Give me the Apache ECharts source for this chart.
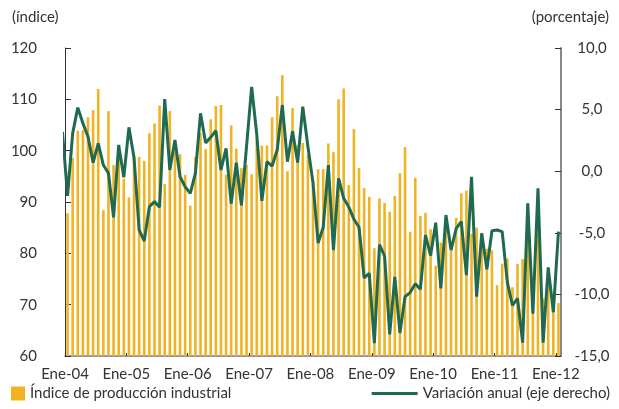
<!DOCTYPE html>
<html>
<head>
<meta charset="utf-8">
<script src="https://cdn.jsdelivr.net/npm/echarts@6/dist/echarts.min.js"></script>
<style>
  html, body { margin: 0; padding: 0; background: #fff; }
  #chart { width: 619px; height: 409px; }
</style>
</head>
<body>
<div id="chart"></div>
<script>
// enero 2004 .. enero 2012, mensual
var etiquetas_anio = ['Ene-04', 'Ene-05', 'Ene-06', 'Ene-07', 'Ene-08', 'Ene-09', 'Ene-10', 'Ene-11', 'Ene-12']

var indice = [
    87.8, 98.6, 103.9, 104.0, 106.5, 107.9, 112.0, 88.4, 107.7, 97.2, 99.8, 94.5,
    90.9, 99.0, 98.8, 98.0, 103.4, 105.3, 108.8, 93.5, 107.7, 99.7, 99.3, 95.3,
    89.3, 98.8, 103.4, 100.3, 106.1, 108.7, 108.9, 95.3, 104.9, 100.4, 96.6, 97.2,
    95.4, 102.4, 101.0, 101.0, 106.5, 110.6, 114.7, 96.0, 108.3, 101.1, 101.5, 99.2,
    94.2, 96.4, 96.4, 101.4, 99.7, 110.0, 112.1, 93.3, 104.2, 96.6, 92.7, 91.0,
    81.0, 90.7, 89.8, 88.1, 91.2, 95.6, 100.7, 84.2, 94.7, 87.3, 87.9, 84.7,
    77.6, 82.1, 86.7, 80.6, 86.9, 91.7, 92.2, 83.8, 85.0, 84.0, 80.9, 80.6,
    73.8, 78.0, 79.0, 73.4, 77.9, 78.9, 89.8, 74.1, 83.9, 71.2, 74.5, 71.4,
    70.3
]

// diciembre 2003, solo asoma en el borde izquierdo
var variacion_dic03 = 3.2

var variacion = [
    -2.0, 3.07, 5.16, 3.89, 2.80, 0.69, 2.26, 0.50, -0.17, -3.75, 2.13, -0.5,
    3.56, 1.1, -4.77, -5.67, -2.88, -2.47, -2.92, 5.85, 0.10, 2.53, -0.45, -1.26,
    -1.8, -0.17, 4.70, 2.3, 2.75, 3.29, 0.10, 1.86, -2.63, 0.70, -2.77, 2.0,
    6.85, 3.0, -2.4, 0.77, 0.42, 1.72, 5.37, 0.77, 3.24, 0.70, 5.24, 2.0,
    -0.95, -5.83, -4.55, 0.50, -6.40, -0.58, -2.20, -2.9, -3.9, -4.55, -8.65, -8.29,
    -13.95, -5.95, -6.9, -13.25, -8.58, -13.13, -10.18, -9.85, -9.13, -9.57, -5.18, -6.85,
    -4.18, -9.51, -3.56, -6.40, -4.65, -4.10, -8.43, -0.45, -10.18, -5.04, -7.97, -4.83,
    -4.77, -4.91, -9.0, -10.9, -10.32, -13.92, -2.61, -11.56, -1.39, -13.92, -7.80, -11.45,
    -4.91
]

var font = 'Lato, "Open Sans", sans-serif'
var texto = '#333'

var barras = []
for (var i = 0; i < indice.length; i++) {
    barras.push([i + 0.5, indice[i]])
}
var linea = [[-0.5, variacion_dic03]]
for (var j = 0; j < variacion.length; j++) {
    linea.push([j + 0.5, variacion[j]])
}

var option = {
    animation: false,
    textStyle: { fontFamily: font },
    title: [
        { text: '(índice)', left: 7, top: 5,
          textStyle: { fontFamily: font, fontSize: 15, fontWeight: 'normal', color: texto } },
        { text: '(porcentaje)', right: 5, top: 5,
          textStyle: { fontFamily: font, fontSize: 15, fontWeight: 'normal', color: texto } }
    ],
    legend: [
        {
            data: ['Índice de producción industrial'],
            left: 6, bottom: 3,
            icon: 'rect', itemWidth: 14, itemHeight: 14,
            textStyle: { fontFamily: font, fontSize: 15, color: texto }
        },
        {
            data: ['Variación anual (eje derecho)'],
            right: 4, bottom: 3,
            icon: 'rect', itemWidth: 46, itemHeight: 3,
            textStyle: { fontFamily: font, fontSize: 15, color: texto }
        }
    ],
    grid: { left: 65, right: 58, top: 48, bottom: 53, containLabel: false },
    xAxis: {
        type: 'value',
        min: 0, max: indice.length, interval: 12,
        splitLine: { show: false },
        axisLine: { show: true, onZero: false, lineStyle: { color: '#777', width: 1.5 } },
        axisTick: { show: true, inside: true, length: 3, lineStyle: { color: '#333' } },
        axisLabel: {
            margin: 11, fontSize: 15, color: texto, fontFamily: font,
            showMaxLabel: false,
            formatter: function (v) {
                return v % 12 === 0 ? etiquetas_anio[v / 12] : ''
            }
        }
    },
    yAxis: [
        {
            type: 'value', min: 60, max: 120, interval: 10,
            splitLine: { show: false },
            axisLine: { show: true, lineStyle: { color: '#333', width: 1 } },
            axisTick: { show: true, inside: true, length: 6, lineStyle: { color: '#333' } },
            axisLabel: { margin: 28, fontSize: 15, color: texto, fontFamily: font }
        },
        {
            type: 'value', min: -15, max: 10, interval: 5,
            position: 'right',
            splitLine: { show: false },
            axisLine: { show: true, lineStyle: { color: '#888', width: 2 } },
            axisTick: { show: true, inside: true, length: 6, lineStyle: { color: '#333' } },
            axisLabel: {
                margin: 31, align: 'center', fontSize: 15, color: texto, fontFamily: font,
                formatter: function (v) { return v.toFixed(1).replace('.', ',') }
            }
        }
    ],
    series: [
        {
            name: 'Índice de producción industrial',
            type: 'bar',
            yAxisIndex: 0,
            barWidth: 2.6,
            itemStyle: { color: '#f0b323' },
            data: barras
        },
        {
            name: 'Variación anual (eje derecho)',
            type: 'line',
            yAxisIndex: 1,
            showSymbol: false,
            symbol: 'none',
            clip: true,
            lineStyle: { color: '#1f6a50', width: 3 },
            itemStyle: { color: '#1f6a50' },
            data: linea
        }
    ]
}

var myChart = echarts.init(document.getElementById('chart'))
myChart.setOption(option, true)
</script>
</body>
</html>
